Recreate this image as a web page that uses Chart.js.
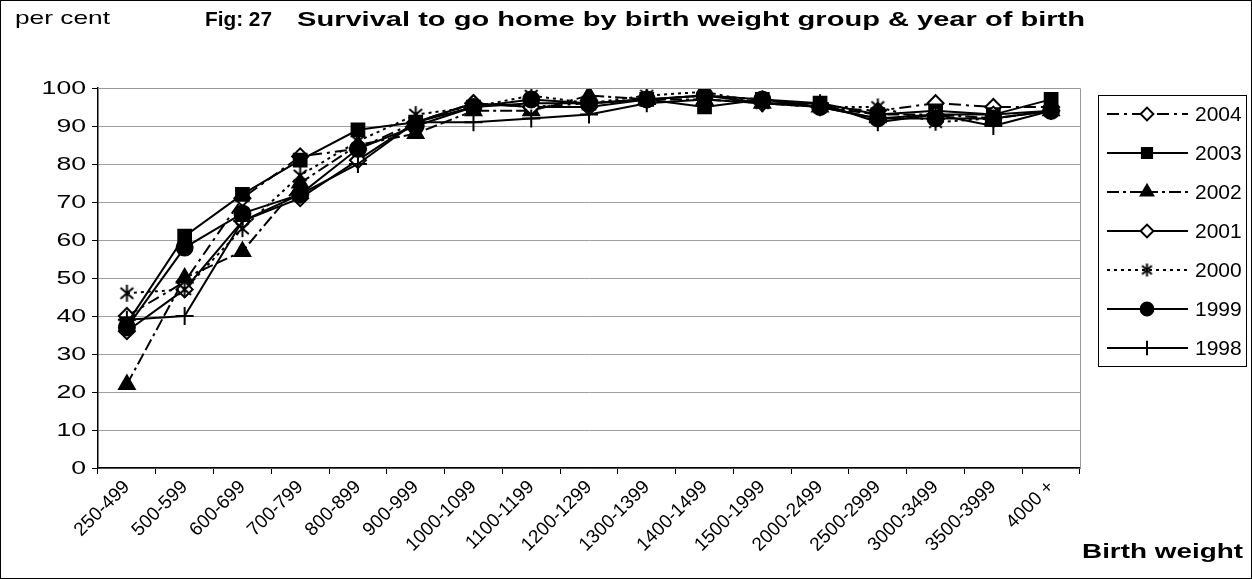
<!DOCTYPE html>
<html>
<head>
<meta charset="utf-8">
<script src="https://cdn.jsdelivr.net/npm/chart.js@4/dist/chart.umd.min.js"></script>
<style>
  body { margin: 0; background: #fff; }
  canvas { display: block; }
</style>
</head>
<body>
<canvas id="c" width="1252" height="579"></canvas>
<script>
/* ---------- data ---------- */
const categories = ["250-499", "500-599", "600-699", "700-799", "800-899", "900-999",
  "1000-1099", "1100-1199", "1200-1299", "1300-1399", "1400-1499", "1500-1999",
  "2000-2499", "2500-2999", "3000-3499", "3500-3999", "4000 +"];

const years = ["2004", "2003", "2002", "2001", "2000", "1999", "1998"];

const y2004 = [40, 49, 71, 82, 84, 91, 96, 95, 96, 97, 98, 97, 95, 94, 96, 95, 95];
const y2003 = [38, 61, 72, 81, 89, 91, 95, 96, 96, 97, 95, 97, 96, 93, 94, 93, 97];
const y2002 = [22, 50, 57, 75, 85, 88, 94, 94, 98, 97, 97, 96, 95, 93, 93, 92, 94];
const y2001 = [36, 47, 65, 71, 81, 91, 96, 95, 95, 97, 98, 96, 95, 92, 93, 93, 94];
const y2000 = [46, 47, 63, 77, 86, 93, 95, 98, 96, 98, 99, 96, 95, 95, 91, 92, 94];
const y1999 = [37, 58, 67, 72, 84, 90, 95, 97, 96, 97, 98, 97, 95, 92, 92, 92, 94];
const y1998 = [39, 40, 65, 72, 80, 91, 91, 92, 93, 96, 97, 96, 96, 91, 93, 90, 94];

const yTicks = [0, 10, 20, 30, 40, 50, 60, 70, 80, 90, 100];

const FONT = "'Liberation Sans', Arial, sans-serif";

/* asterisk marker (X with a vertical bar) */
function makeAsterisk(size) {
  const c = document.createElement("canvas");
  c.width = size; c.height = size;
  const g = c.getContext("2d");
  g.strokeStyle = "#000";
  g.lineWidth = 2;
  const m = size / 2, r = size / 2 - 1;
  g.beginPath();
  g.moveTo(m, m - r); g.lineTo(m, m + r);
  g.moveTo(m - r * 0.75, m - r * 0.66); g.lineTo(m + r * 0.75, m + r * 0.66);
  g.moveTo(m - r * 0.75, m + r * 0.66); g.lineTo(m + r * 0.75, m - r * 0.66);
  g.stroke();
  return c;
}
const asterisk = makeAsterisk(19);
const asteriskSmall = makeAsterisk(15);

const styles = {
  "2004": { dash: [12, 5, 3, 5], point: "rectRot", fill: "#fff", r: 8 },
  "2003": { dash: [], point: "rect", fill: "#000", r: 9 },
  "2002": { dash: [12, 4, 3, 4, 12, 4], point: "triangle", fill: "#000", r: 9 },
  "2001": { dash: [], point: "rectRot", fill: "#fff", r: 8 },
  "2000": { dash: [3, 4], point: asterisk, legendPoint: asteriskSmall, fill: "#000", r: 9 },
  "1999": { dash: [], point: "circle", fill: "#000", r: 8 },
  "1998": { dash: [], point: "cross", fill: "#000", r: 9 }
};
const drawOrder = { "1999": 0, "1998": 1, "2000": 2, "2001": 3, "2002": 4, "2003": 5, "2004": 6 };
const seriesValues = [y2004, y2003, y2002, y2001, y2000, y1999, y1998];

const datasets = years.map((yr, i) => ({
  label: yr,
  data: seriesValues[i],
  order: drawOrder[yr],
  borderColor: "#000",
  borderWidth: 2,
  borderDash: styles[yr].dash,
  backgroundColor: styles[yr].fill,
  pointStyle: styles[yr].point,
  pointRadius: styles[yr].r,
  pointBorderWidth: 2,
  pointBorderColor: "#000",
  pointBackgroundColor: styles[yr].fill,
  tension: 0
}));

/* text squeezed/stretched horizontally to fit a width */
function fitText(ctx, text, x, y, font, width, align) {
  ctx.save();
  ctx.font = font;
  const w = ctx.measureText(text).width;
  const sx = width / w;
  ctx.translate(x, y);
  ctx.scale(sx, 1);
  ctx.textAlign = align || "left";
  ctx.fillText(text, 0, 0);
  ctx.restore();
}

/* ---------- extras: frame, texts, legend ---------- */
const extras = {
  id: "extras",
  afterDraw(chart) {
    const ctx = chart.ctx;
    const a = chart.chartArea;
    ctx.save();

    // grey plot frame top/right
    ctx.strokeStyle = "#999";
    ctx.lineWidth = 1;
    ctx.beginPath();
    ctx.moveTo(a.left, a.top + 0.5);
    ctx.lineTo(a.right + 0.5, a.top + 0.5);
    ctx.lineTo(a.right + 0.5, a.bottom);
    ctx.stroke();

    // outer border
    ctx.strokeStyle = "#000";
    ctx.strokeRect(0.5, 0.5, 1251, 578);

    // texts
    ctx.fillStyle = "#000";
    ctx.textBaseline = "middle";
    fitText(ctx, "per cent", 15, 19, "19px " + FONT, 95);
    fitText(ctx, "Fig: 27", 205, 20, "bold 21px " + FONT, 67);
    fitText(ctx, "Survival to go home by birth weight group & year of birth", 297, 20, "bold 21px " + FONT, 788);
    fitText(ctx, "Birth weight", 1082, 552, "bold 21px " + FONT, 161);

    // y tick labels (wide face)
    const ys = chart.scales.y;
    ys.ticks.forEach(t => {
      ctx.save();
      ctx.font = "19px " + FONT;
      ctx.translate(86, ys.getPixelForValue(t.value) + 1);
      ctx.scale(1.4, 1);
      ctx.textAlign = "right";
      ctx.fillText(String(t.value), 0, 0);
      ctx.restore();
    });

    // legend
    ctx.lineWidth = 1;
    ctx.strokeStyle = "#000";
    ctx.strokeRect(1098.5, 95.5, 148, 271);
    years.forEach((yr, i) => {
      const y = 114 + i * 39;
      const st = styles[yr];
      ctx.lineWidth = 2;
      ctx.setLineDash(st.dash);
      ctx.beginPath();
      ctx.moveTo(1107, y);
      ctx.lineTo(1188, y);
      ctx.stroke();
      ctx.setLineDash([]);
      ctx.fillStyle = st.fill;
      Chart.helpers.drawPoint(ctx, { pointStyle: st.legendPoint || st.point, radius: st.r * 0.8, borderWidth: 2, rotation: 0 }, 1147, y);
      ctx.fillStyle = "#000";
      ctx.font = "21px " + FONT;
      ctx.textAlign = "left";
      ctx.fillText(yr, 1195, y + 1);
    });
    ctx.restore();
  }
};

new Chart(document.getElementById("c"), {
  type: "line",
  data: { labels: categories, datasets },
  options: {
    responsive: false,
    animation: false,
    layout: { padding: { left: 0, top: 88, right: 172, bottom: 0 } },
    plugins: { legend: { display: false }, tooltip: { enabled: false }, title: { display: false } },
    scales: {
      x: {
        type: "category",
        offset: true,
        grid: { offset: true, drawOnChartArea: false, color: "#000", tickColor: "#000", tickLength: 6 },
        border: { color: "#000", width: 1.5 },
        ticks: {
          autoSkip: false, minRotation: 45, maxRotation: 45,
          color: "#000", font: { family: FONT, size: 19 }, padding: 2
        },
        afterFit: s => { s.height = 111; }
      },
      y: {
        min: 0, max: 100,
        afterBuildTicks: s => { s.ticks = yTicks.map(v => ({ value: v })); },
        grid: { color: "#a0a0a0", tickColor: "#000", tickLength: 6 },
        border: { color: "#000", width: 1.5 },
        ticks: { color: "rgba(0,0,0,0)", font: { family: FONT, size: 19 }, padding: 6 },
        afterFit: s => { s.width = 98; }
      }
    }
  },
  plugins: [extras]
});
</script>
</body>
</html>
